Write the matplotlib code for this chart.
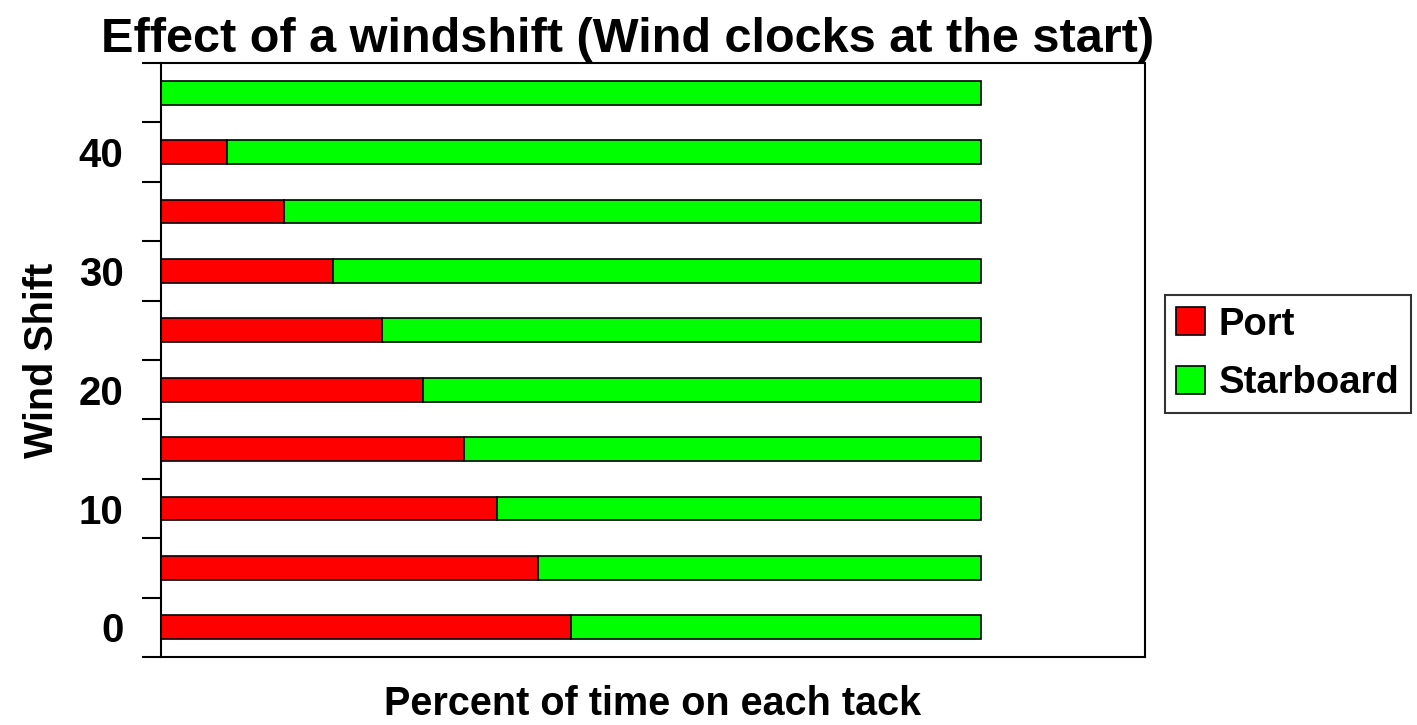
import numpy as np
import matplotlib
matplotlib.use("Agg")
import matplotlib.pyplot as plt

shifts = [0, 5, 10, 15, 20, 25, 30, 35, 40, 45]
port = [50, 46, 41, 37, 32, 27, 21, 15, 8, 0]
starboard = [100 - p for p in port]
tick_labels = ["0", "10", "20", "30", "40"]

plt.rcParams["font.family"] = ["Liberation Sans Narrow", "Liberation Sans", "DejaVu Sans"]
plt.rcParams["font.weight"] = "bold"

fig = plt.figure(figsize=(14.17, 7.25), dpi=100)
ax = fig.add_axes([161 / 1417, 68 / 725, 984 / 1417, 594 / 725])

y = np.arange(len(shifts))
ax.barh(y, port, height=0.4, color="#ff0000", edgecolor="black", linewidth=1.2, label="Port")
ax.barh(y, starboard, left=port, height=0.4, color="#00ff00", edgecolor="black", linewidth=1.2, label="Starboard")

ax.set_xlim(0, 120)
ax.set_ylim(-0.5, len(shifts) - 0.5)
ax.set_xticks([])
ax.set_yticks(np.arange(-0.5, len(shifts), 1.0))
ax.set_yticklabels([])
ax.tick_params(axis="y", which="major", length=14, width=1.5, direction="out")
ax.set_yticks([y[shifts.index(int(t))] for t in tick_labels], minor=True)
ax.set_yticklabels(tick_labels, minor=True, fontsize=29, fontweight="bold")
ax.tick_params(axis="y", which="minor", length=0, pad=27)
for s in ax.spines.values():
    s.set_linewidth(1.5)

ax.set_xlabel("Percent of time on each tack", fontsize=28.5, fontweight="bold", labelpad=20)
ax.set_ylabel("Wind Shift", fontsize=28.5, fontweight="bold", labelpad=13)
fig.text(0.443, 0.946, "Effect of a windshift (Wind clocks at the start)",
         ha="center", va="center", fontsize=35, fontweight="bold")

leg = ax.legend(loc="center left", bbox_to_anchor=(1165 / 1417, 371 / 725), bbox_transform=fig.transFigure,
                fontsize=27.5, frameon=True, fancybox=False, edgecolor="black",
                handlelength=0.75, handleheight=0.75, handletextpad=0.35, borderpad=0.3, labelspacing=0.6,
                borderaxespad=0)
leg.get_frame().set_linewidth(1.5)
for t in leg.get_texts():
    t.set_fontweight("bold")

fig.savefig("out.png", dpi=100)
